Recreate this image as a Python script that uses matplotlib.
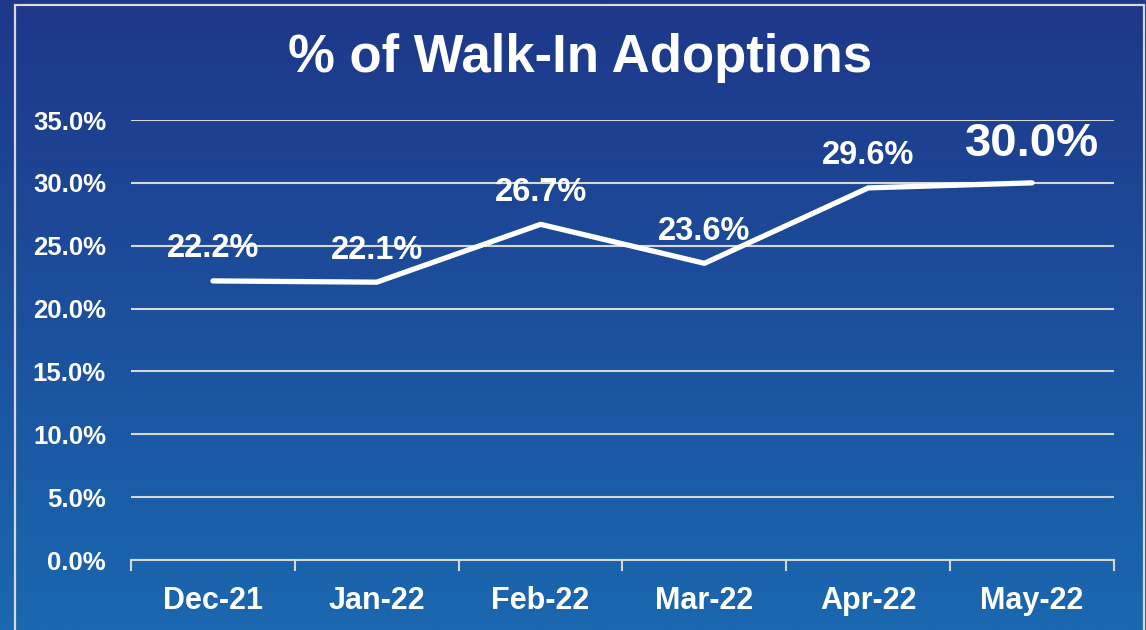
import numpy as np
import matplotlib.pyplot as plt
from matplotlib.patches import Rectangle

months = ["Dec-21", "Jan-22", "Feb-22", "Mar-22", "Apr-22", "May-22"]
walkin_pct = [22.2, 22.1, 26.7, 23.6, 29.6, 30.0]
ytick_vals = [0, 5, 10, 15, 20, 25, 30, 35]

plt.rcParams['font.family'] = ['Liberation Sans', 'DejaVu Sans']
plt.rcParams['font.weight'] = 'bold'

fig = plt.figure(figsize=(11.46, 6.30), dpi=100)

# gradient background
bg = fig.add_axes([0, 0, 1, 1])
top = np.array([30, 55, 137]) / 255
bot = np.array([26, 104, 176]) / 255
t = np.linspace(0, 1, 256)[:, None]
grad = top[None, :] * (1 - t) + bot[None, :] * t
bg.imshow(grad[:, None, :], aspect='auto', extent=[0, 1, 0, 1])
bg.set_xlim(0, 1)
bg.set_ylim(0, 1)
bg.axis('off')
# light frame
bg.add_patch(Rectangle((15 / 1146, -0.05), (1144 - 15) / 1146, (625 / 630) + 0.05,
                       fill=False, edgecolor='#d8d8d8', linewidth=1.6))

fig.text(580 / 1146, 1 - 58 / 630, "% of Walk-In Adoptions", color='white',
         fontsize=38, fontweight='bold', ha='center', va='center')

ax = fig.add_axes([131 / 1146, 70 / 630, 983 / 1146, 440 / 630])
ax.patch.set_alpha(0)
x = np.arange(len(months))
ax.plot(x, walkin_pct, color='white', linewidth=3.8, solid_capstyle='round', zorder=3)

for i, v in enumerate(walkin_pct):
    big = i == len(walkin_pct) - 1
    ax.annotate(f"{v:.1f}%", (i, v), xytext=(0, 19 if big else 17),
                textcoords='offset points', ha='center', va='baseline',
                color='white', fontsize=34 if big else 23.5, fontweight='bold')

ax.set_xlim(-0.5, len(months) - 0.5)
ax.set_ylim(0, 35)
ax.set_yticks(ytick_vals)
ax.set_yticklabels([f"{v:.1f}%" for v in ytick_vals])
ax.set_xticks(x)
ax.set_xticklabels(months)
ax.set_xticks(np.arange(-0.5, len(months)), minor=True)
ax.tick_params(axis='x', which='major', length=0, pad=19, labelsize=22, labelcolor='white')
ax.tick_params(axis='x', which='minor', length=8, width=1.5, color='#d8d8d8', direction='out')
ax.tick_params(axis='y', length=0, pad=18, labelsize=18.5, labelcolor='white')

ax.grid(axis='y', color='#d8d8d8', linewidth=1.5)
ax.set_axisbelow(True)
for s in ['top', 'right', 'left']:
    ax.spines[s].set_visible(False)
ax.spines['bottom'].set_color('#d8d8d8')
ax.spines['bottom'].set_linewidth(1.5)

fig.savefig("out.png", dpi=100)
